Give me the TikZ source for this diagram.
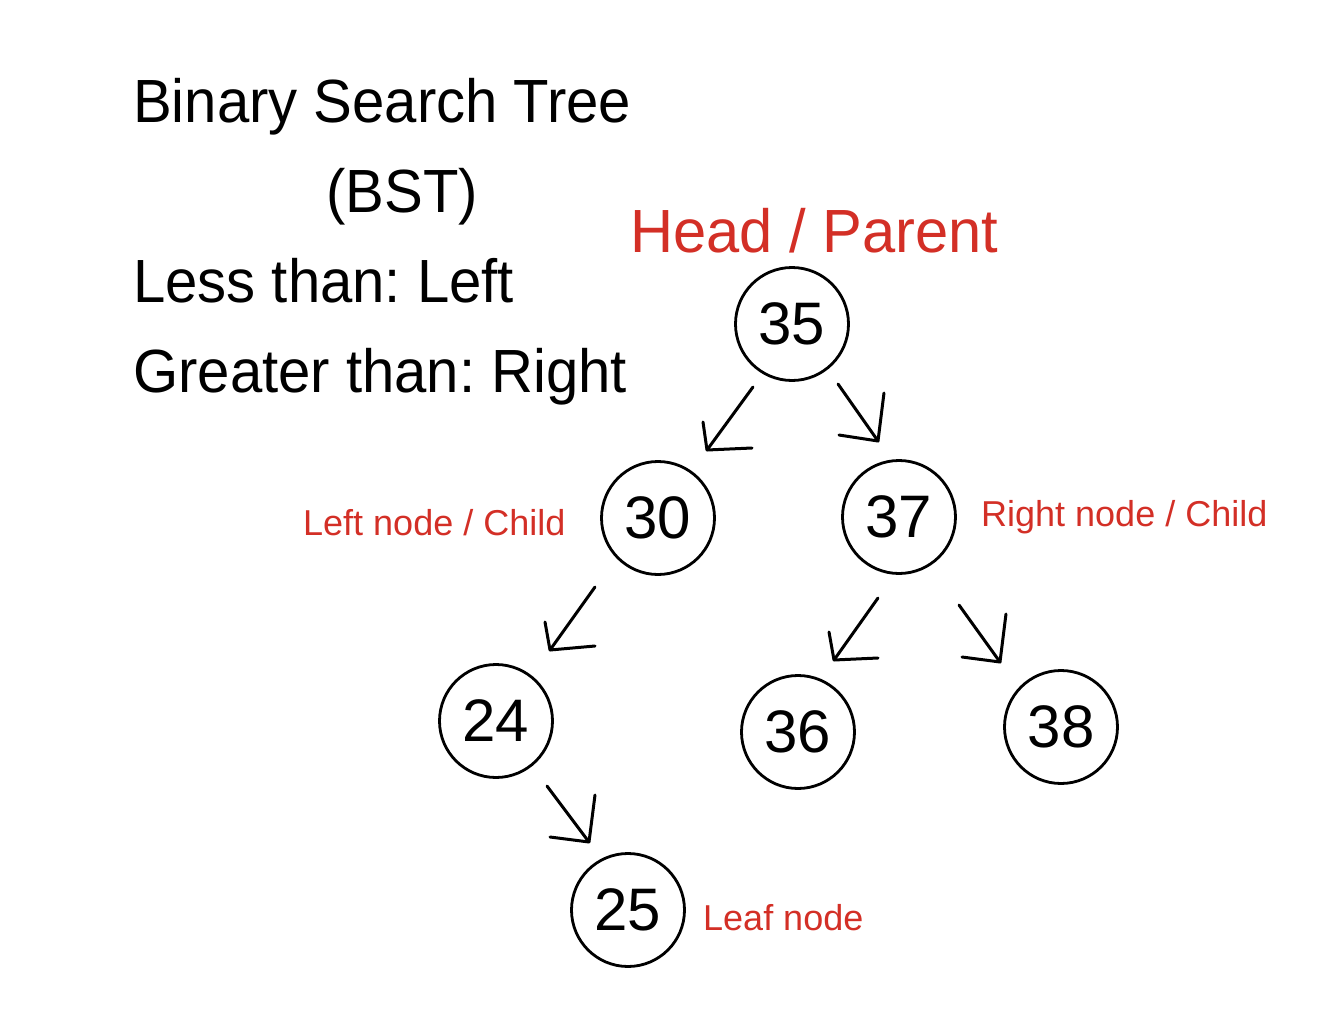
\documentclass[tikz,border=0pt]{standalone}
\usepackage{fontspec}
\setmainfont{Liberation Sans}
\newfontfamily\titlefont[FakeStretch=0.952]{Liberation Sans}
\newfontfamily\headfont[FakeStretch=0.978]{Liberation Sans}
\definecolor{labred}{RGB}{211,47,38}
\frenchspacing
\begin{document}
\begin{tikzpicture}[x=1pt,y=-1pt,
  bstnode/.style={circle,draw,line width=2.8pt,minimum size=113pt,inner sep=0pt,font=\fontsize{60}{60}\selectfont},
  bigtext/.style={anchor=base west,inner sep=0pt,font=\titlefont\fontsize{61}{61}\selectfont},
  redbig/.style={anchor=base west,inner sep=0pt,text=labred,font=\headfont\fontsize{61}{61}\selectfont},
  redsmall/.style={anchor=base west,inner sep=0pt,text=labred,font=\fontsize{36}{36}\selectfont},
  sketch/.style={line width=3pt,line cap=round,line join=round}]
\useasboundingbox (0,0) rectangle (1326,1012);
\node[bigtext] (t1) at (133,122) {Binary Search Tree};
\node[bigtext,anchor=base] (t2) at (402,212) {(BST)};
\node[bigtext] (t3) at (133,302) {Less than: Left};
\node[bigtext] (t4) at (133,392) {Greater than: Right};
\node[redbig] (lh) at (630,252) {Head / Parent};
\node[redsmall] (ll) at (303,535) {Left node / Child};
\node[redsmall] (lr) at (981,526) {Right node / Child};
\node[redsmall] (lf) at (703,930) {Leaf node};
\node[bstnode] (n35) at (792,324) {35};
\node[bstnode] (n30) at (658,518) {30};
\node[bstnode] (n37) at (899,517) {37};
\node[bstnode] (n24) at (496,721) {24};
\node[bstnode] (n36) at (798,732) {36};
\node[bstnode] (n38) at (1061,727) {38};
\node[bstnode] (n25) at (628,910) {25};
% arrow 35 -> 30
\coordinate (s1) at (753,387); \coordinate (e1) at (707,450);
\coordinate (a1) at (703,422); \coordinate (b1) at (752,448);
% arrow 35 -> 37
\coordinate (s2) at (838,384); \coordinate (e2) at (878,441);
\coordinate (a2) at (884,393); \coordinate (b2) at (839,435);
% arrow 30 -> 24
\coordinate (s3) at (595,587); \coordinate (e3) at (550,650);
\coordinate (a3) at (545,622); \coordinate (b3) at (595,646);
% arrow 37 -> 36
\coordinate (s4) at (878,598); \coordinate (e4) at (834,660);
\coordinate (a4) at (829,632); \coordinate (b4) at (878,658);
% arrow 37 -> 38
\coordinate (s5) at (959,605); \coordinate (e5) at (1000,662);
\coordinate (a5) at (1006,614); \coordinate (b5) at (962,657);
% arrow 24 -> 25
\coordinate (s6) at (547,786); \coordinate (e6) at (589,842);
\coordinate (a6) at (595,795); \coordinate (b6) at (550,837);
\foreach \i in {1,...,6}{
  \draw[sketch] (s\i) -- (e\i);
  \draw[sketch] (a\i) -- (e\i) -- (b\i);
}
\end{tikzpicture}
\end{document}
